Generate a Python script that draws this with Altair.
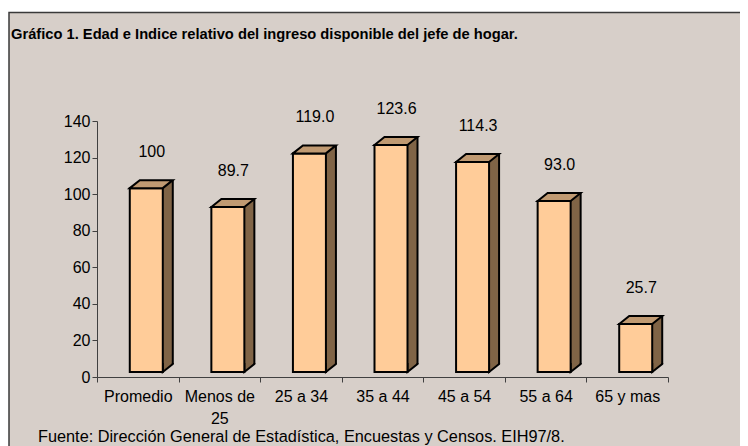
import altair as alt
import pandas as pd

categories = ["Promedio", "Menos de 25", "25 a 34", "35 a 44", "45 a 54", "55 a 64", "65 y mas"]
values = [100, 89.7, 119.0, 123.6, 114.3, 93.0, 25.7]
y_ticks = [0, 20, 40, 60, 80, 100, 120, 140]
title_text = "Gráfico 1. Edad e Indice relativo del ingreso disponible del jefe de hogar."
source_text = "Fuente: Dirección General de Estadística, Encuestas y Censos. EIH97/8."

FONT = "Liberation Sans"
BG = "#D7CFC9"
FRONT = "#FFCC99"
TOP = "#C09A72"
SIDE = "#806446"

df = pd.DataFrame({"cat": categories, "v": values})

xenc = alt.X(
    "cat:N",
    sort=categories,
    scale=alt.Scale(type="band", paddingInner=0, paddingOuter=0),
    axis=alt.Axis(
        title=None,
        labelAngle=0,
        tickBand="extent",
        tickSize=5,
        labelPadding=6,
        labelFont=FONT,
        labelFontSize=16,
        labelColor="#000000",
        labelLineHeight=22,
        labelOverlap=False,
        domainColor="#404040",
        tickColor="#404040",
        zindex=1,
        labelExpr="datum.label == 'Menos de 25' ? ['Menos de', '25'] : datum.label",
    ),
)
yscale = alt.Scale(domain=[0, 140], nice=False)
yaxis = alt.Axis(
    title=None,
    values=y_ticks,
    tickCount=len(y_ticks),
    grid=False,
    tickSize=5,
    labelPadding=2,
    labelFont=FONT,
    labelFontSize=16,
    labelColor="#000000",
    labelOverlap=False,
    labelBound=False,
    domainColor="#404040",
    tickColor="#404040",
    zindex=1,
)
yenc = alt.Y("v:Q", scale=yscale, axis=yaxis)
yzero = alt.Y(datum=0, scale=yscale, axis=yaxis)

base = alt.Chart(df).encode(x=xenc)

one = pd.DataFrame({"a": [0]})
frame = alt.Chart(one).mark_rect(
    fill=BG, stroke="#3a3a3a", strokeWidth=1.5
).encode(
    x=alt.value(-88), x2=alt.value(720), y=alt.value(-108.5), y2=alt.value(400)
)

side = base.mark_bar(
    xOffset=30, width=10, yOffset=-14, y2Offset=-13, fill=SIDE, strokeWidth=0
).encode(y=yenc, y2=alt.datum(0))

bottom_tri = base.mark_point(
    shape="M25,-14L25,-5L35,-13L35,-14",
    size=4, filled=True, fill=SIDE, stroke="black", strokeWidth=2, opacity=1,
).encode(y=yzero)

right_edge = base.mark_rule(
    xOffset=35, yOffset=-14, y2Offset=-13, stroke="black", strokeWidth=2
).encode(y=yenc, y2=alt.datum(0))

front = base.mark_bar(
    xOffset=8.5, width=33, yOffset=-6, y2Offset=-5,
    fill=FRONT, stroke="black", strokeWidth=2,
).encode(y=yenc, y2=alt.datum(0))

top = base.mark_point(
    shape="M-8,-6L2,-14L35,-14L25,-6Z",
    size=4, filled=True, fill=TOP, stroke="black", strokeWidth=2, opacity=1,
).encode(y=yenc)

labels = base.transform_calculate(
    lab="datum.v == 100 ? '100' : format(datum.v, '.1f')"
).mark_text(
    dx=14, dy=-42, font=FONT, fontSize=16, color="#000000", baseline="middle"
).encode(y=yenc, text="lab:N")

title = alt.Chart(one).mark_text(
    text=title_text, font=FONT, fontSize=14.7, fontWeight="bold",
    align="left", baseline="alphabetic", color="#000000",
).encode(x=alt.value(-86), y=alt.value(-82))

source = alt.Chart(one).mark_text(
    text=source_text, font=FONT, fontSize=16.3,
    align="left", baseline="middle", color="#000000",
).encode(x=alt.value(-59), y=alt.value(316))

chart = alt.layer(
    frame, side, bottom_tri, right_edge, front, top, labels, title, source
).properties(
    width=571,
    height=256,
    autosize=alt.AutoSizeParams(type="none"),
    padding={"left": 89, "top": 113, "right": 72, "bottom": 69},
    background="white",
).configure_view(strokeWidth=0)

chart.save("out.html", embed_options={"renderer": "svg", "actions": False})
